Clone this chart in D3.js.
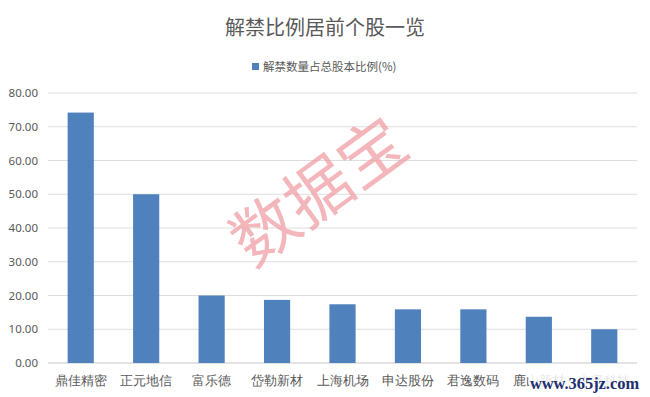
<!DOCTYPE html>
<html>
<head>
<meta charset="utf-8">
<script src="https://cdn.jsdelivr.net/npm/d3@7"></script>
<style>
  body { margin: 0; background: #fff; }
  svg { display: block; font-family: "Noto Sans CJK SC", "Noto Sans", sans-serif; }
</style>
</head>
<body>
<svg id="chart" width="650" height="397"></svg>
<script>
// chart data
const stocks = ["鼎佳精密", "正元地信", "富乐德", "岱勒新材", "上海机场", "申达股份", "君逸数码", "鹿山新材", "中坚科技"];
const ratios = [74.2, 50.0, 20.0, 18.7, 17.4, 15.9, 15.9, 13.7, 10.0];
const yTicks = [0, 10, 20, 30, 40, 50, 60, 70, 80];

const svg = d3.select("#chart");
const W = 650, H = 397;
const margin = { left: 48, right: 13, top: 93, bottom: 34 };

//scales
const x = d3.scaleBand()
  .domain(stocks)
  .range([margin.left, W - margin.right])
  .paddingInner(0.6)
  .paddingOuter(0.3);
const y = d3.scaleLinear()
  .domain([0, 80])
  .range([H - margin.bottom, margin.top]);

//title + legend
svg.append("text")
  .attr("x", 325).attr("y", 35)
  .attr("text-anchor", "middle")
  .attr("font-size", 20)
  .attr("fill", "#595959")
  .text("解禁比例居前个股一览");

svg.append("rect")
  .attr("x", 252).attr("y", 63).attr("width", 7).attr("height", 7)
  .attr("fill", "#4f81bd");
svg.append("text")
  .attr("x", 263).attr("y", 71)
  .attr("font-size", 11.5)
  .attr("fill", "#595959")
  .text("解禁数量占总股本比例(%)");

//gridlines
svg.append("g")
  .selectAll("line")
  .data(yTicks)
  .join("line")
  .attr("x1", margin.left).attr("x2", W - margin.right)
  .attr("y1", d => y(d)).attr("y2", d => y(d))
  .attr("stroke", d => d === 0 ? "#c8c8c8" : "#dedede")
  .attr("stroke-width", 1.2);

//y axis labels
const yAxis = d3.axisLeft(y).tickValues(yTicks).tickFormat(d3.format(".2f")).tickSize(0).tickPadding(10);
svg.append("g")
  .attr("transform", `translate(${margin.left},0)`)
  .call(yAxis)
  .call(g => g.select(".domain").remove())
  .call(g => g.selectAll("text").attr("font-size", 11.5).attr("fill", "#595959")
    .attr("font-family", "'Noto Sans', sans-serif"));

//bars
svg.append("g")
  .selectAll("rect")
  .data(stocks)
  .join("rect")
  .attr("x", d => x(d))
  .attr("width", x.bandwidth())
  .attr("y", (d, i) => y(ratios[i]))
  .attr("height", (d, i) => y(0) - y(ratios[i]))
  .attr("fill", "#4f81bd");

//x axis labels
const xAxis = d3.axisBottom(x).tickSize(0).tickPadding(13);
svg.append("g")
  .attr("transform", `translate(0,${y(0)})`)
  .call(xAxis)
  .call(g => g.select(".domain").remove())
  .call(g => g.selectAll("text").attr("font-size", 12.5).attr("fill", "#595959"));

//watermark
svg.append("text")
  .attr("transform", "translate(322,196) rotate(-36)")
  .attr("text-anchor", "middle")
  .attr("dominant-baseline", "middle")
  .attr("font-size", 66)
  .attr("fill", "#ef9fa4")
  .attr("fill-opacity", 0.75)
  .text("数据宝");

//site stamp over the last labels
svg.append("rect")
  .attr("x", 529).attr("y", 373).attr("width", 113).attr("height", 20)
  .attr("fill", "#fff").attr("fill-opacity", 0.85);
svg.append("text")
  .attr("x", 530).attr("y", 389)
  .attr("font-family", "'Liberation Serif', serif")
  .attr("font-weight", "bold")
  .attr("font-size", 16)
  .attr("textLength", 109)
  .attr("lengthAdjust", "spacingAndGlyphs")
  .attr("fill", "#1c2f6e")
  .text("www.365jz.com");
</script>
</body>
</html>
